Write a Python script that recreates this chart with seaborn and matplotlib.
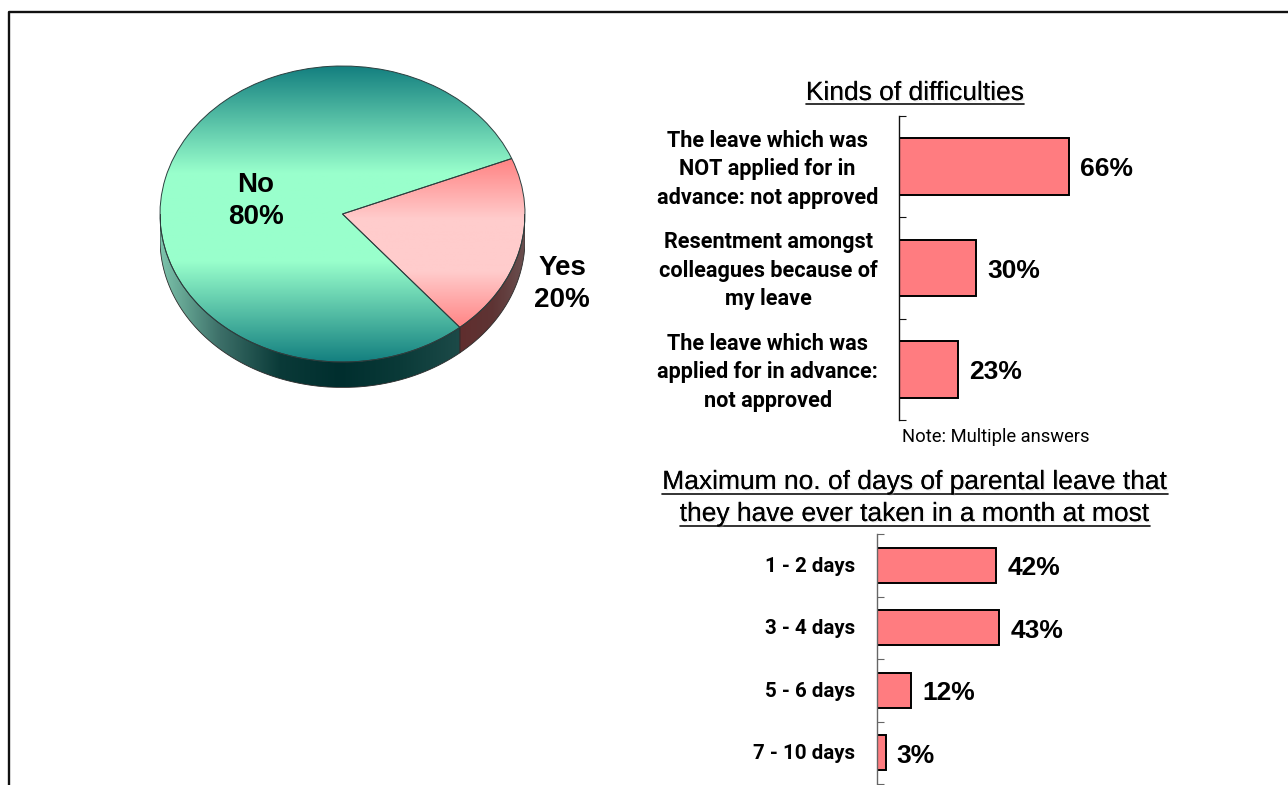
# Parental leave survey: pie with two bar panels
import numpy as np
import pandas as pd
import matplotlib
matplotlib.use("Agg")
import matplotlib.pyplot as plt
import matplotlib.patheffects as pe
import seaborn as sns
from matplotlib.colors import LinearSegmentedColormap
from matplotlib.lines import Line2D
from matplotlib.patches import PathPatch
from matplotlib.path import Path
from matplotlib.transforms import ScaledTranslation

# Data
pie_labels = ["Yes", "No"]
pie_values = [20, 80]

kinds = [
    "The leave which was\nNOT applied for in\nadvance: not approved",
    "Resentment amongst\ncolleagues because of\nmy leave",
    "The leave which was\napplied for in advance:\nnot approved",
]
kinds_pct = [66, 30, 23]

days = ["1 - 2 days", "3 - 4 days", "5 - 6 days", "7 - 10 days"]
days_pct = [42, 43, 12, 3]

W, H = 1288, 785
BAR = "#FF7C80"
NARROW = ["Roboto", "Liberation Sans"]

sns.set_theme(style="white")
plt.rcParams["font.family"] = ["Liberation Sans", "DejaVu Sans"]

fig = plt.figure(figsize=(W / 100, H / 100), dpi=100, facecolor="white")


def px_axes(x0, y0, x1, y1):
    # axes from pixel box, y measured from the top
    return fig.add_axes([x0 / W, 1 - y1 / H, (x1 - x0) / W, (y1 - y0) / H])


def gradient(ax, colors, extent, clip, horizontal=False, zorder=2):
    cmap = LinearSegmentedColormap.from_list("g", colors)
    g = np.linspace(0, 1, 256)
    g = g[None, :] if horizontal else g[:, None]
    im = ax.imshow(g, cmap=cmap, extent=extent, aspect="auto", origin="upper", zorder=zorder)
    im.set_clip_path(clip)


# ----- frame -----
fig.add_artist(Line2D([9 / W, 9 / W, 1], [0, 1 - 11.5 / H, 1 - 11.5 / H], color="#111111", lw=1.7))

# ----- pie -----
DEPTH = 25.5 / 148
ax = px_axes(160, 66, 525, 362 + 25.5)
wedges, _ = ax.pie(pie_values, startangle=-50, radius=1, counterclock=True,
                   wedgeprops={"facecolor": "none", "edgecolor": "#2b3f3f", "linewidth": 0.7, "zorder": 5})
ax.set_aspect("auto")
yes_w, no_w = wedges


# side wall goes along the front half of the rim only
def side_patch(t1, t2):
    t = np.radians(np.linspace(t1, t2, 80))
    xs = np.cos(t)
    ys = np.sin(t)
    verts = np.r_[np.c_[xs, ys], np.c_[xs[::-1], ys[::-1] - DEPTH], [[xs[0], ys[0]]]]
    return PathPatch(Path(verts), facecolor="none", edgecolor="#2b2b2b", lw=0.6, zorder=4,
                     transform=ax.transData)


no_side = ax.add_patch(side_patch(180, 310))
yes_side = ax.add_patch(side_patch(310, 360))
gradient(ax, ["#7DC4AC", "#3C6F68", "#0A3A38", "#002E2E", "#0A3A38", "#1C4A48"],
         (-1, 0.642, -1 - DEPTH, 0.2), no_side, horizontal=True, zorder=3)
gradient(ax, ["#602E2E", "#5E3434", "#6A5050"],
         (0.642, 1, -1 - DEPTH, 0.2), yes_side, horizontal=True, zorder=3)

# top faces with the vertical shading
gradient(ax, [(0, "#148080"), (0.36, "#99FFCC"), (0.66, "#99FFCC"), (1, "#148080")],
         (-1, 1, -1, 1), no_w, zorder=3.5)
gradient(ax, [(0, "#FF8080"), (0.36, "#FFCCCC"), (0.66, "#FFCCCC"), (1, "#FF8080")],
         (-1, 1, -0.79, 0.39), yes_w, zorder=3.5)
ax.set_xlim(-1, 1)
ax.set_ylim(-1 - DEPTH, 1)

fig.text(256 / W, 1 - 201 / H, f"{pie_labels[1]}\n{pie_values[1]}%", ha="center", va="center",
         fontsize=20, fontweight="bold", color="black", linespacing=1.28)
fig.text(562 / W, 1 - 284 / H, f"{pie_labels[0]}\n{pie_values[0]}%", ha="center", va="center",
         fontsize=20, fontweight="bold", color="black", linespacing=1.28)


# ----- bar panels -----
def bar_panel(box, cats, vals, xmax, pad, axis_color, label_size, label_shift):
    ax = px_axes(*box)
    df = pd.DataFrame({"cat": cats, "pct": vals})
    sns.barplot(data=df, y="cat", x="pct", ax=ax, color=BAR, saturation=1, width=0.56,
                edgecolor="black", linewidth=1.4)
    ax.set_xlim(0, xmax)
    ax.set_ylim(len(cats) - 0.5, -0.5)
    ax.set_xlabel("")
    ax.set_ylabel("")
    ax.set_xticks([])
    sns.despine(ax=ax, top=True, right=True, bottom=True)
    ax.spines["left"].set_color(axis_color)
    ax.spines["left"].set_linewidth(1.0)
    ax.set_yticks(np.arange(len(cats) + 1) - 0.5, minor=True)
    ax.tick_params(axis="y", which="minor", direction="in", length=5, width=0.8, color=axis_color, left=True)
    ax.tick_params(axis="y", which="major", length=0, pad=pad)
    nudge = ScaledTranslation(0, label_shift / 100, fig.dpi_scale_trans)
    for t in ax.get_yticklabels():
        t.set_family(NARROW)
        t.set_fontsize(label_size)
        t.set_fontweight("bold")
        t.set_color("black")
        t.set_multialignment("center")
        t.set_linespacing(1.38)
        t.set_transform(t.get_transform() + nudge)
    for c in ax.containers:
        for lab in ax.bar_label(c, fmt="%g%%", padding=8, fontsize=19, fontweight="bold", color="black"):
            lab.xyann = (8, -2)
    ax.patch.set_alpha(0)
    return ax


bar_panel((899, 116, 899 + 257.5, 420), kinds, kinds_pct, 100, 15, "#111111", 15.6, 3)
bar_panel((877, 534, 877 + 284, 784), days, days_pct, 100, 16, "#666666", 14.8, 1)

# ----- headings -----
shadow = [pe.withSimplePatchShadow(offset=(1, -1), shadow_rgbFace="#BBBBBB", alpha=0.3), pe.Normal()]


def underlined(x, y, s, gap, size=19):
    t = fig.text(x / W, 1 - y / H, s, ha="center", va="baseline", fontsize=size, color="black",
                 path_effects=shadow)
    fig.canvas.draw()
    bb = t.get_window_extent()
    fig.add_artist(Line2D([bb.x0 / W, bb.x1 / W], [1 - (y + gap) / H] * 2, color="#111111", lw=1.2))


underlined(915, 100, "Kinds of difficulties", 3.5)
underlined(915, 489, "Maximum no. of days of parental leave that", 5)
underlined(915, 521, "they have ever taken in a month at most", 5)
fig.text(996 / W, 1 - 437 / H, "Note: Multiple answers", ha="center", va="center",
         fontsize=13.2, family=NARROW, color="black")

plt.savefig("out.png", dpi=100, facecolor="white")
